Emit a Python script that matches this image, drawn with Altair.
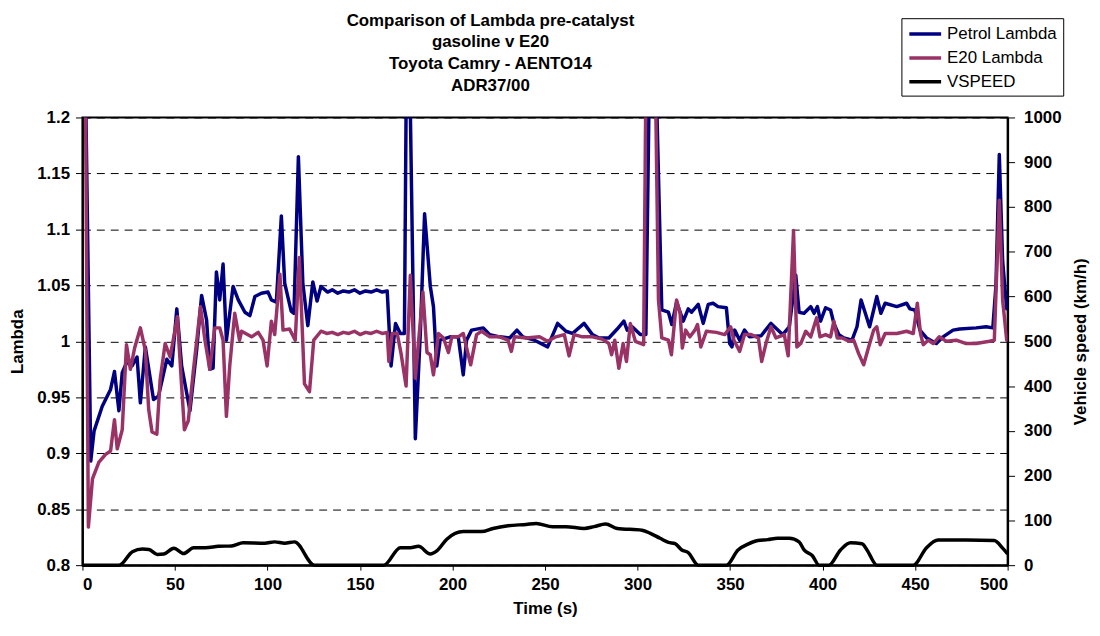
import altair as alt
import pandas as pd

FONT = "Liberation Sans"

# ---------------- data ----------------
petrol_time = [0, 1.5, 4.5, 6.3, 10.7, 15.2, 17.3, 19.7, 21.5, 24.1, 26.8, 29.5, 31.3, 34, 38.4,
               41.1, 45.6, 48.3, 51, 53.6, 56.3, 58.1, 61.7, 64.4, 67.1, 68.8, 70.6, 72.4, 74.2,
               76, 77.8, 81.4, 84.2, 87.8, 90.5, 93.2, 96.7, 100.3, 102.1, 104.8, 107.5, 109.3,
               112.8, 114.3, 116.7, 119.1, 121.8, 124.5, 126.8, 128.9, 132.5, 135, 138, 141, 144,
               147, 150, 153, 156, 159, 162, 164.7, 166.8, 169.2, 171.8, 174, 175.1, 176.8, 179.9,
               182.6, 184.9, 188, 189.7, 191.5, 193.3, 198.7, 203.1, 205.8, 207.6, 210.3, 216.6,
               220.1, 225.5, 230.9, 234.8, 238, 244.3, 251.4, 256.8, 261.3, 264.8, 271.1, 275.6,
               279.2, 284.5, 289, 292.6, 294.4, 297.1, 301.5, 304.5, 306.5, 309.8, 313.1, 316.7,
               318.5, 321.1, 324.7, 327.4, 329.2, 332.8, 335.5, 338.2, 340.8, 343.5, 348, 349.8,
               351, 352.5, 355.2, 357.8, 360.5, 366.8, 372.1, 378.4, 382, 385.5, 387.3, 390,
               393.6, 395.4, 397.2, 398.9, 401.6, 404.3, 406.1, 408.8, 411.5, 415.9, 418.6, 420.8,
               423.1, 425.4, 427.6, 429.3, 431.5, 433.8, 440.1, 445.4, 447.2, 449.9, 452.6, 456.2,
               461.5, 465.1, 470.5, 474.1, 483, 488.4, 492, 493.7, 495.5, 497.3, 499.5, 500]
petrol_lambda = [1.3, 1.25, 0.893, 0.92, 0.942, 0.957, 0.973, 0.938, 0.972, 0.982, 0.978, 0.986,
                 0.945, 0.995, 0.948, 0.951, 0.984, 0.978, 1.029, 0.978, 0.954, 0.938, 0.992,
                 1.041, 1.019, 0.975, 0.976, 1.062, 1.037, 1.069, 1.001, 1.049, 1.037, 1.026,
                 1.023, 1.040, 1.043, 1.044, 1.037, 1.035, 1.112, 1.052, 1.027, 1.025, 1.165,
                 1.052, 1.014, 1.053, 1.036, 1.049, 1.044, 1.046, 1.043, 1.045, 1.044, 1.046,
                 1.043, 1.045, 1.044, 1.046, 1.044, 1.045, 0.978, 1.016, 1.007, 1.007, 1.25,
                 1.25, 0.913, 1.007, 1.114, 1.049, 1.031, 0.978, 1.001, 1.004, 1.004, 0.970,
                 1.001, 1.010, 1.012, 1.006, 1.004, 1.003, 1.010, 1.004, 1.001, 0.995, 1.016,
                 1.009, 1.007, 1.016, 1.006, 1.003, 1.003, 1.011, 1.018, 1.010, 1.013, 1.006,
                 1.006, 1.25, 1.25, 1.028, 1.026, 1.015, 1.035, 1.018, 1.029, 1.026, 1.033,
                 1.016, 1.033, 1.034, 1.031, 1.030, 0.998, 0.995, 1.010, 1.001, 1.010, 1.004,
                 1.005, 1.016, 1.006, 1.013, 1.059, 1.026, 1.025, 1.031, 1.025, 1.031, 1.018,
                 1.030, 1.028, 1.016, 1.006, 1.003, 1.001, 1.013, 1.037, 1.025, 1.013, 1.028,
                 1.040, 1.025, 1.034, 1.031, 1.034, 1.029, 1.028, 1.010, 1.003, 0.998, 1.004,
                 1.010, 1.011, 1.012, 1.013, 1.012, 1.05, 1.167, 1.072, 1.029, 1.029]

e20_time = [0, 1.5, 3.2, 5.4, 8.9, 12.5, 15.2, 17.3, 18.8, 21.5, 23.8, 25.9, 28.2, 31.3, 34,
            35.8, 37.6, 40.2, 42, 44.7, 47.4, 51.3, 53.6, 55.1, 57.2, 59.9, 63.8, 66.2, 68.8,
            71.5, 74.2, 76, 77.8, 79.6, 82.3, 84.9, 86, 91.4, 95, 97.6, 99.8, 102.1, 103.9,
            106.7, 108.4, 111.9, 115, 117.2, 120, 122.7, 125, 128.9, 132, 135, 138, 141, 144,
            147, 150, 153, 156, 159, 162, 164.7, 165.6, 167.4, 170.1, 172.2, 174.9, 177.2,
            179.9, 184, 186.2, 188, 189.7, 192.4, 195.1, 197.8, 199.6, 203.1, 205.8, 209.8,
            213, 215.7, 220.1, 225.5, 230, 231.8, 233.5, 239.8, 247, 251.4, 255.9, 260.4, 263,
            265.7, 270.2, 275.6, 280.9, 284.5, 286, 287.7, 289.9, 292.2, 294, 296.1, 298.8,
            303.3, 304.6, 309.5, 311.3, 313.1, 316.7, 318.3, 321.1, 323, 324.2, 326, 328.3,
            331, 332.4, 334.2, 337.2, 342.6, 347.1, 350.3, 352.1, 355.2, 357.8, 361.4, 365.3,
            367.1, 369.4, 372.1, 374.8, 379.3, 381.4, 384.3, 386.1, 388.2, 390.9, 393.6,
            396.8, 398.6, 401.6, 404.3, 406.1, 407.9, 410.6, 414.2, 416.8, 419.5, 422.2,
            424.9, 427.6, 429.3, 431.1, 433.8, 440.1, 445.4, 449, 451.2, 452.9, 454.4, 457.1,
            459.8, 463, 466.9, 472.3, 477.6, 483, 490.2, 492.8, 495.5, 497.3, 499.5, 500]
e20_lambda = [1.3, 1.25, 0.834, 0.877, 0.892, 0.899, 0.902, 0.930, 0.904, 0.921, 0.997, 0.975,
              0.994, 1.012, 0.992, 0.939, 0.919, 0.917, 0.966, 0.998, 0.986, 1.022, 0.960,
              0.921, 0.929, 0.973, 1.031, 1.001, 0.975, 1.012, 1.012, 1.001, 0.933, 0.978,
              1.025, 1.001, 1.009, 1.004, 1.008, 1.001, 0.978, 1.018, 1.006, 1.060, 1.010,
              1.011, 1.001, 1.075, 0.962, 0.955, 1.001, 1.009, 1.007, 1.008, 1.006, 1.008,
              1.007, 1.009, 1.006, 1.008, 1.007, 1.009, 1.007, 1.008, 0.982, 1.007, 1.007,
              0.989, 0.960, 1.059, 0.967, 1.044, 0.990, 0.988, 0.970, 1.007, 1.003, 0.990,
              1.004, 1.004, 1.007, 0.979, 1.006, 1.009, 1.004, 1.004, 1.001, 0.991, 1.004,
              1.003, 1.004, 1.000, 1.004, 1.006, 0.987, 1.006, 1.004, 1.004, 1.002, 0.998,
              0.988, 1.001, 0.976, 0.998, 0.982, 1.016, 1.000, 0.997, 1.25, 1.25, 1.037,
              1.003, 1.001, 0.988, 1.037, 1.025, 0.994, 1.010, 1.004, 1.010, 1.015, 0.995,
              1.009, 1.008, 1.006, 1.013, 1.001, 0.991, 1.006, 1.006, 1.003, 0.982, 0.998,
              1.013, 1.003, 1.006, 0.987, 1.099, 0.995, 0.998, 1.009, 1.004, 1.021, 1.004,
              1.006, 1.004, 1.018, 1.003, 1.003, 1.000, 1.001, 0.989, 0.979, 0.995, 1.010,
              1.013, 0.997, 1.007, 1.007, 1.009, 1.007, 1.034, 1.007, 0.997, 1.001, 0.998,
              1.004, 1.000, 1.001, 0.998, 0.998, 1.000, 1.001, 1.126, 1.037, 1.001, 1.005]

speed_time = [0, 19.8, 27, 32.4, 35.9, 40.4, 44, 49.4, 54.7, 60.1, 66.4, 73.5, 80.6, 86.9, 98.5,
              103.9, 109.3, 114.6, 125.4, 162.9, 171.8, 177.2, 181.6, 188, 191.5, 196.9, 205.8,
              215.7, 221.9, 230, 239.8, 245.2, 254.1, 261.3, 271.1, 276.5, 282.7, 289, 302.4,
              306.9, 312.2, 316.7, 320.3, 323.9, 327.4, 332.8, 348, 354.3, 359.7, 365, 370.4,
              375.7, 382, 387.3, 390, 394.5, 398.1, 403.4, 409.7, 415.1, 421.3, 424, 429.3, 449,
              456.2, 462.4, 477.6, 492.8, 497.3, 500]
speed_kmh = [0, 0, 30, 36, 35, 24, 25, 38, 26, 39, 39, 42, 43, 50, 49, 52, 49, 52, 0, 0, 39, 39,
             42, 25, 32, 58, 75, 75, 82, 88, 91, 93, 86, 86, 82, 86, 92, 82, 78, 71, 60, 51, 48,
             34, 28, 0, 0, 34, 47, 55, 57, 60, 60, 52, 34, 21, 0, 0, 34, 50, 48, 34, 0, 0, 39,
             56, 56, 55, 38, 25]

series_names = ["Petrol Lambda", "E20 Lambda", "VSPEED"]
series_colors = ["#000080", "#993366", "#000000"]
time_ticks = [0, 50, 100, 150, 200, 250, 300, 350, 400, 450, 500]
lambda_ticks = [0.8, 0.85, 0.9, 0.95, 1.0, 1.05, 1.1, 1.15, 1.2]
speed_ticks = [0, 100, 200, 300, 400, 500, 600, 700, 800, 900, 1000]
title_lines = ["Comparison of Lambda pre-catalyst", "gasoline v E20",
               "Toyota Camry - AENTO14", "ADR37/00"]

petrol_df = pd.DataFrame({"time": petrol_time, "value": petrol_lambda, "series": series_names[0]})
e20_df = pd.DataFrame({"time": e20_time, "value": e20_lambda, "series": series_names[1]})
speed_df = pd.DataFrame({"time": speed_time, "value": speed_kmh, "series": series_names[2]})

# ---------------- encodings ----------------
axis_common = dict(
    domainColor="black", domainWidth=2, tickColor="black", tickWidth=1,
    labelFont=FONT, labelFontSize=17, labelFontWeight="bold", labelColor="black",
    titleFont=FONT, titleFontSize=17, titleFontWeight="bold", titleColor="black",
)

color = alt.Color(
    "series:N",
    scale=alt.Scale(domain=series_names, range=series_colors),
    legend=alt.Legend(
        title=None, orient="none", legendX=825, legendY=-100,
        symbolType="M-2,0H2", symbolSize=256, symbolStrokeWidth=3.5,
        symbolOffset=8, labelOffset=12,
        labelFont=FONT, labelFontSize=17, labelColor="black",
        rowPadding=6, padding=6, strokeColor="black", fillColor="white",
    ),
)

x_enc = alt.X(
    "time:Q",
    scale=alt.Scale(domain=[0, 500], nice=False, zero=False),
    axis=alt.Axis(values=time_ticks, title="Time (s)", grid=False, tickSize=5,
                  labelPadding=7, titlePadding=8, **axis_common),
)

lam_y = alt.Y(
    "value:Q",
    scale=alt.Scale(domain=[0.8, 1.2], nice=False, zero=False),
    axis=alt.Axis(values=lambda_ticks, title="Lambda", labelExpr="format(datum.value, '~g')",
                  grid=True, gridColor="black", gridDash=[8, 6], gridWidth=1,
                  tickSize=7, labelPadding=6, titlePadding=10, **axis_common),
)

speed_y = alt.Y(
    "value:Q",
    scale=alt.Scale(domain=[0, 1000], nice=False),
    axis=alt.Axis(orient="right", values=speed_ticks, title="Vehicle speed (km/h)", format="d",
                  titleAngle=270, grid=False, tickSize=7, labelPadding=9, titlePadding=29,
                  **axis_common),
)

petrol_line = alt.Chart(petrol_df).mark_line(strokeWidth=3.5, clip=True, strokeJoin="round").encode(
    x=x_enc, y=lam_y, color=color)
e20_line = alt.Chart(e20_df).mark_line(strokeWidth=3.5, clip=True, strokeJoin="round").encode(
    x=x_enc, y=lam_y, color=color)
speed_line = alt.Chart(speed_df).mark_line(strokeWidth=3.5, interpolate="monotone").encode(
    x=x_enc, y=speed_y, color=color)

lambda_layer = alt.layer(petrol_line, e20_line)

chart = (
    alt.layer(lambda_layer, speed_line)
    .resolve_scale(y="independent")
    .properties(
        width=932, height=451,
        padding={"left": 75, "top": 108, "right": 85, "bottom": 57},
        autosize=alt.AutoSizeParams(type="none"),
        title=alt.TitleParams(
            text=title_lines, font=FONT, fontSize=17, fontWeight="bold", color="black",
            lineHeight=22, anchor="middle", dx=-55, offset=-78,
        ),
        background="white",
    )
    .configure_view(stroke="black", strokeWidth=2)
)

chart.save("out.html", embed_options={"renderer": "svg", "actions": False})
